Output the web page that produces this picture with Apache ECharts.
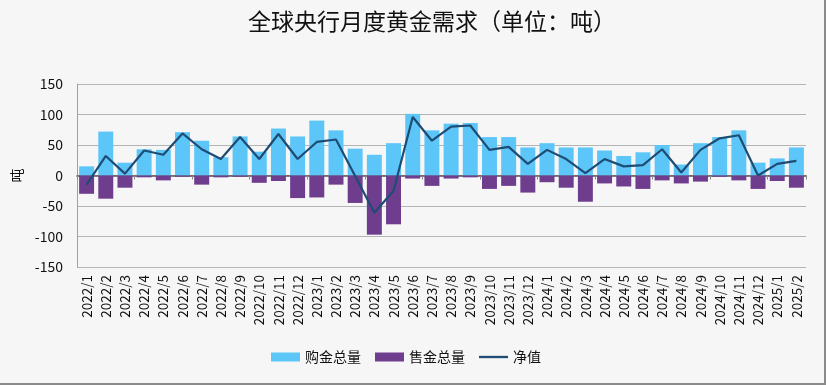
<!DOCTYPE html>
<html><head><meta charset="utf-8">
<script src="https://cdn.jsdelivr.net/npm/echarts@6/dist/echarts.min.js"></script>
<style>
html,body{margin:0;padding:0;background:#f6f6f6;}
#c{width:824px;height:383px;border-right:2px solid #8a8a8a;border-bottom:2px solid #8a8a8a;}
</style></head><body><div id="c"></div>
<script>
const categories = ['2022/1','2022/2','2022/3','2022/4','2022/5','2022/6','2022/7','2022/8','2022/9','2022/10','2022/11','2022/12',
 '2023/1','2023/2','2023/3','2023/4','2023/5','2023/6','2023/7','2023/8','2023/9','2023/10','2023/11','2023/12',
 '2024/1','2024/2','2024/3','2024/4','2024/5','2024/6','2024/7','2024/8','2024/9','2024/10','2024/11','2024/12',
 '2025/1','2025/2'];
const buyTotal = [15,72,21,43,42,71,57,30,64,39,77,64, 90,74,44,34,53,101,74,85,86,63,63,46, 53,46,46,41,32,38,50,18,53,63,74,21, 28,46];
const sellTotal = [-30,-38,-20,-3,-8,-2,-15,-3,-2,-12,-9,-37, -36,-15,-45,-97,-80,-5,-17,-5,-3,-22,-17,-28, -11,-20,-43,-13,-18,-22,-8,-13,-10,-2,-8,-22, -9,-20];
const netValue = [-15,32,3,41,34,69,43,27,63,27,68,27, 55,59,-1,-61,-25,96,57,80,82,42,47,19, 42,27,4,27,15,17,43,5,42,61,66,0, 19,24];
const yTicks = {min:-150, max:150, interval:50};

const font = '"Noto Sans CJK SC","Microsoft YaHei",sans-serif';
const chart = echarts.init(document.getElementById('c'), null, {renderer:'canvas'});
chart.setOption({
  backgroundColor:'#f6f6f6',
  animation:false,
  title:{text:'全球央行月度黄金需求（单位：吨）', left:427, top:5, textAlign:'center',
    textStyle:{fontFamily:font, fontSize:23, fontWeight:'normal', color:'#111'}},
  legend:{bottom:14, left:266, itemWidth:29, itemHeight:9, itemGap:14,
    textStyle:{fontFamily:font, fontSize:14, color:'#111'},
    data:[{name:'购金总量', icon:'rect'},{name:'售金总量', icon:'rect'},
          {name:'净值', icon:'path://M0,0 L30,0 L30,2.4 L0,2.4 Z'}]},
  grid:{left:77, right:18, top:84, bottom:116},
  xAxis:[
    {type:'category', data:categories, position:'bottom',
     axisLine:{show:false, onZero:false}, axisTick:{show:false},
     axisLabel:{rotate:90, interval:0, fontFamily:font, fontSize:13.5, color:'#111', margin:8}},
    {type:'category', data:categories, position:'bottom',
     axisLine:{show:true, onZero:true, lineStyle:{color:'#555', width:1.5}},
     axisTick:{show:true, length:4, lineStyle:{color:'#888'}},
     axisLabel:{show:false}}
  ],
  yAxis:{type:'value', min:yTicks.min, max:yTicks.max, interval:yTicks.interval,
    name:'吨', nameLocation:'middle', nameGap:52, nameRotate:90,
    nameTextStyle:{fontFamily:font, fontSize:14, color:'#111'},
    axisLine:{show:true, lineStyle:{color:'#a0a0a0'}}, axisTick:{show:false},
    axisLabel:{fontFamily:font, fontSize:14, color:'#111', margin:14},
    splitLine:{lineStyle:{color:'#b4b4b4', width:1.2}}},
  series:[
    {name:'购金总量', type:'bar', stack:'g', data:buyTotal, barWidth:'78%', itemStyle:{color:'#5CC6F8'}},
    {name:'售金总量', type:'bar', stack:'g', data:sellTotal, barWidth:'78%', itemStyle:{color:'#6E3D8E'}},
    {name:'净值', type:'line', data:netValue, symbol:'none', lineStyle:{color:'#1E4C74', width:2.2}, itemStyle:{color:'#1E4C74'}, z:5}
  ]
});
</script></body></html>
